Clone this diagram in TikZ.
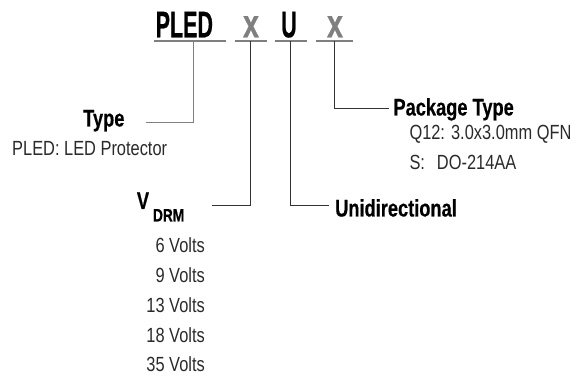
\documentclass[tikz,border=0pt]{standalone}
\usepackage{fontspec}
\setmainfont{Liberation Sans}[FakeStretch=0.8]
\newfontfamily\headfont{Liberation Sans Bold}[FakeStretch=0.58, FakeBold=0.6]
\newfontfamily\headxfont{Liberation Sans Bold}[FakeStretch=0.72, FakeBold=0.6]
\newfontfamily\labelfont{Liberation Sans Bold}[FakeStretch=0.76, FakeBold=0.4]
\usepackage{tikz}
\definecolor{codegray}{HTML}{7F7F7F}
\definecolor{inkgray}{HTML}{2A2A2A}

\begin{document}
\begin{tikzpicture}[x=1pt, y=-1pt,
    head/.style={font=\headfont\fontsize{37}{37}\selectfont, inner sep=0pt, anchor=base},
    headx/.style={font=\headxfont\fontsize{40}{40}\selectfont, text=codegray, inner sep=0pt, anchor=base},
    title/.style={font=\labelfont\fontsize{24}{24}\selectfont, inner sep=0pt, anchor=base west},
    entry/.style={font=\fontsize{20.5}{20.5}\selectfont, text=inkgray, inner sep=0pt},
    bar/.style={codegray, line width=1.8pt},
    lead/.style={black!80, line width=1pt}]
    \useasboundingbox (0,0) rectangle (587,377);

    \node[head, anchor=base west](pled) at (155.5,37.3) {PLED};
    \node[headx](volt)                  at (251,37.3) {x};
    \node[head](uni)                    at (289,37.3) {U};
    \node[headx](pack)                  at (335,37.3) {x};
    \foreach \a/\b in {154/226, 235/267, 275/307, 316/353}
        \draw[bar] (\a,41.3) -- (\b,41.3);

    \node[title](type)      at (83,126.5)    {Type};
    \node[entry, anchor=base west](typeval) at (12,156) {PLED: LED Protector};
    \node[title](vdrm)      at (136.7,209)   {V\hspace{4pt}\raisebox{-12.5pt}{\fontsize{18}{18}\selectfont DRM}};
    \node[title](unidir)    at (335,216.5)   {Unidirectional};
    \node[title](packtype)  at (393.3,115.5) {Package Type};
    \node[entry, anchor=base west](q12) at (409.3,140) {Q12: 3.0x3.0mm QFN};
    \node[entry, anchor=base west](smb) at (409.3,170) {S:\hspace{12pt}DO-214AA};
    \foreach \v [count=\i] in {6,9,13,18,35}
        \node[entry, anchor=base east](volts\i) at (205,{252.7+29.8*(\i-1)}) {\v\ Volts};

    \coordinate (pledtap) at (193,41.3);
    \coordinate (typeend) at (145.7,122.3);
    \coordinate (volttap) at (250.7,41.3);
    \coordinate (vdrmend) at (211.7,206);
    \coordinate (unitap)  at (290.5,41.3);
    \coordinate (uniend)  at (329,205.5);
    \coordinate (packtap) at (334.3,41.3);
    \coordinate (packend) at (389.3,108.3);
    \draw[lead, codegray] (pledtap) |- (typeend);
    \draw[lead] (volttap) |- (vdrmend);
    \draw[lead] (unitap) |- (uniend);
    \draw[lead] (packtap) |- (packend);
\end{tikzpicture}
\end{document}
